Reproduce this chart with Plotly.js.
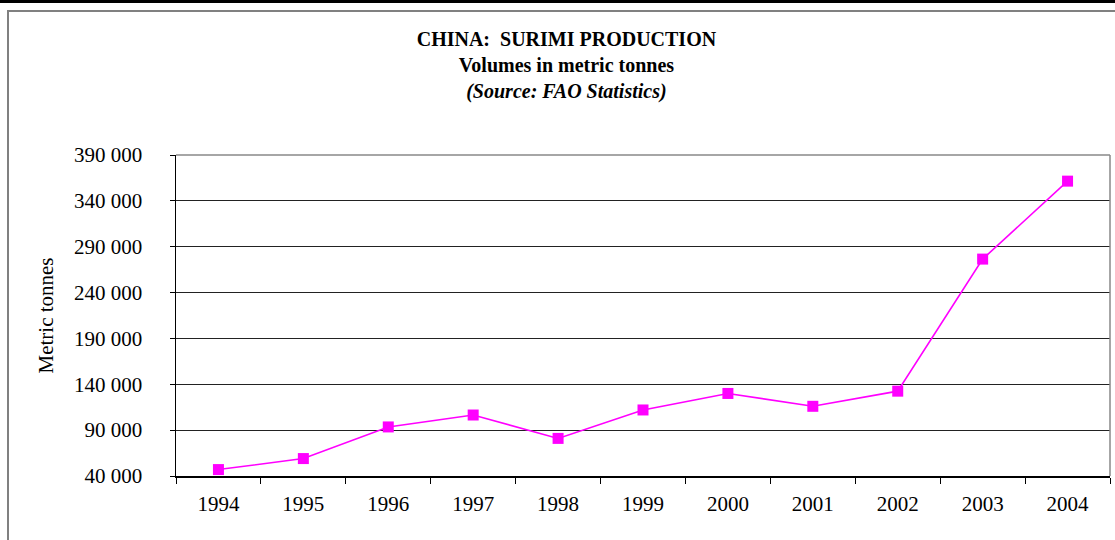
<!DOCTYPE html>
<html>
<head>
<meta charset="utf-8">
<script src="https://cdn.plot.ly/plotly-3.0.1.min.js"></script>
<style>
  html, body { margin: 0; padding: 0; background: #fff; }
  #wrap { position: relative; width: 1115px; height: 540px; overflow: hidden; }
  #chart { position: absolute; left: 0; top: 0; width: 1115px; height: 540px; }
  .frame { position: absolute; pointer-events: none; }
</style>
</head>
<body>
<div id="wrap">
  <div id="chart"></div>
  <div class="frame" style="left:0;top:0;width:1115px;height:3px;background:#000;"></div>
  <div class="frame" style="left:7px;top:10px;width:1108px;height:2px;background:#808080;"></div>
  <div class="frame" style="left:7px;top:10px;width:2px;height:530px;background:#808080;"></div>
</div>
<script>
const years = ['1994','1995','1996','1997','1998','1999','2000','2001','2002','2003','2004'];
const production = [47000, 59000, 93500, 106500, 81000, 112000, 130000, 116000, 132500, 276500, 361500];
const yTicks = [40000, 90000, 140000, 190000, 240000, 290000, 340000, 390000];

const serif = 'Liberation Serif, Times New Roman, serif';

const trace = {
  x: years,
  y: production,
  type: 'scatter',
  mode: 'lines+markers',
  line: { color: '#FF00FF', width: 1.6 },
  marker: { symbol: 'square', size: 11, color: '#FF00FF' },
  hoverinfo: 'x+y'
};

const layout = {
  width: 1115,
  height: 540,
  margin: { l: 176, r: 5, t: 155, b: 64 },
  paper_bgcolor: '#fff',
  plot_bgcolor: '#fff',
  separators: '. ',
  showlegend: false,
  font: { family: serif, color: '#000', size: 21 },
  title: {
    text: '<b>CHINA:  SURIMI PRODUCTION</b><br><b>Volumes in metric tonnes</b><br><b><i>(Source: FAO Statistics)</i></b>',
    font: { family: serif, size: 20, color: '#000' },
    x: 0.508, xanchor: 'center',
    y: 0.915, yanchor: 'top'
  },
  xaxis: {
    type: 'category',
    range: [-0.5, 10.5],
    tickson: 'boundaries',
    ticks: 'outside',
    ticklen: 6,
    tickcolor: '#000',
    tickwidth: 1,
    showline: true,
    linecolor: '#000',
    linewidth: 1.5,
    showgrid: false,
    zeroline: false,
    ticklabelstandoff: 8,
    tickfont: { family: serif, size: 21, color: '#000' }
  },
  yaxis: {
    range: [40000, 390000],
    tickvals: yTicks,
    tickformat: ',d',
    ticks: 'outside',
    ticklen: 5,
    tickcolor: '#000',
    showline: true,
    linecolor: '#000',
    linewidth: 1.5,
    showgrid: true,
    gridcolor: '#222',
    gridwidth: 1,
    zeroline: false,
    ticklabelstandoff: 23,
    tickfont: { family: serif, size: 21, color: '#000' },
    title: {
      text: 'Metric tonnes',
      font: { family: serif, size: 21, color: '#000' },
      standoff: 14
    }
  },
  shapes: [
    { type: 'line', xref: 'paper', yref: 'paper', x0: 0, x1: 1, y0: 1, y1: 1,
      line: { color: '#888', width: 1.5 } },
    { type: 'line', xref: 'paper', yref: 'paper', x0: 1, x1: 1, y0: 0, y1: 1,
      line: { color: '#888', width: 1.5 } }
  ]
};

Plotly.newPlot('chart', [trace], layout, { displayModeBar: false, staticPlot: true });
</script>
</body>
</html>
